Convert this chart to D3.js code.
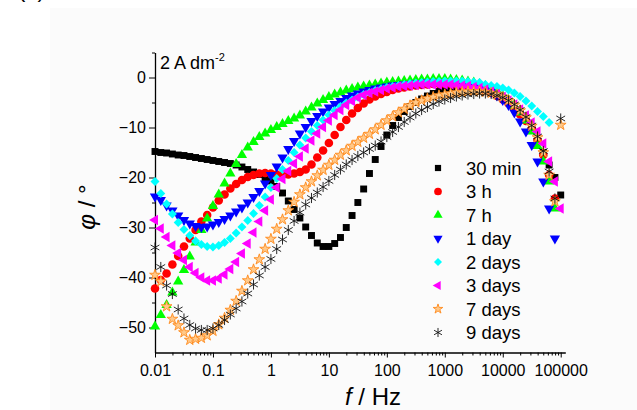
<!DOCTYPE html>
<html>
<head>
<meta charset="utf-8">
<script src="https://cdn.jsdelivr.net/npm/d3@7"></script>
<style>
  html, body { margin: 0; padding: 0; background: #ffffff; }
  svg { display: block; font-family: "Liberation Sans", Arial, sans-serif; }
</style>
</head>
<body>
<script>
// Bode phase plots of the coating after different immersion times

// measurement frequencies (Hz), 10 points per decade
const freq = [
  0.01, 0.01259, 0.01585, 0.01995, 0.02512, 0.03162, 0.03981, 0.05012, 0.0631, 0.07943,
  0.1, 0.1259, 0.1585, 0.1995, 0.2512, 0.3162, 0.3981, 0.5012, 0.631, 0.7943,
  1, 1.259, 1.585, 1.995, 2.512, 3.162, 3.981, 5.012, 6.31, 7.943,
  10, 12.59, 15.85, 19.95, 25.12, 31.62, 39.81, 50.12, 63.1, 79.43,
  100, 125.9, 158.5, 199.5, 251.2, 316.2, 398.1, 501.2, 631, 794.3,
  1000, 1259, 1585, 1995, 2512, 3162, 3981, 5012, 6310, 7943,
  10000, 12590, 15850, 19950, 25120, 31620, 39810, 50120, 63100, 79430,
  100000
];

// phase angle (degrees) for each immersion time
const phase30min = [
  -14.8, -15.0, -15.1, -15.3, -15.5, -15.6, -15.8, -16.0, -16.2, -16.4,
  -16.6, -16.8, -17.0, -17.2, -17.5, -17.9, -18.4, -18.9, -19.4, -20.0,
  -20.7, -21.8, -23.1, -24.7, -26.4, -28.1, -29.9, -31.6, -33.1, -33.8,
  -33.8, -33.2, -32.0, -30.0, -27.6, -25.0, -22.3, -19.2, -16.4, -13.8,
  -11.5, -9.6, -8.0, -6.8, -5.8, -5.0, -4.3, -3.7, -3.2, -2.8,
  -2.6, -2.4, -2.3, -2.2, -2.2, -2.2, -2.3, -2.5, -2.8, -3.3,
  -4.0, -4.8, -5.8, -7.0, -8.5, -10.3, -12.5, -15.0, -17.5, -20.0,
  -23.5
];
const phase3h = [
  -42.2, -40.5, -39.2, -37.4, -35.7, -33.8, -32.2, -30.5, -28.8, -27.5,
  -26.0, -24.6, -23.4, -22.2, -21.3, -20.5, -19.9, -19.5, -19.2, -19.1,
  -19.2, -19.4, -19.5, -19.4, -19.2, -18.9, -18.4, -17.4, -16.0, -14.6,
  -13.1, -11.5, -9.9, -8.5, -7.2, -6.1, -5.2, -4.4, -3.8, -3.3,
  -2.9, -2.5, -2.2, -2.0, -1.8, -1.6, -1.5, -1.4, -1.3, -1.3,
  -1.3, -1.3, -1.4, -1.5, -1.7, -1.9, -2.2, -2.6, -3.1, -3.7,
  -4.4, -5.2, -6.2, -7.4, -8.7, -10.2, -12.5, -15.5, -19.5, -24.2
];
const phase7h = [
  -49.8, -47.5, -45.5, -43.0, -40.8, -38.5, -35.8, -33.0, -30.5, -28.2,
  -25.7, -23.4, -21.2, -19.2, -17.3, -15.5, -14.0, -12.9, -11.9, -11.2,
  -10.5, -9.9, -9.3, -8.7, -8.2, -7.6, -6.8, -6.0, -5.2, -4.5,
  -3.9, -3.4, -3.0, -2.6, -2.3, -2.0, -1.8, -1.6, -1.4, -1.2,
  -1.0, -0.9, -0.8, -0.7, -0.6, -0.5, -0.4, -0.4, -0.3, -0.3,
  -0.3, -0.4, -0.5, -0.6, -0.8, -1.0, -1.3, -1.7, -2.2, -2.8,
  -3.6, -4.5, -5.6, -7.0, -8.6, -10.8, -13.7, -16.8, -20.8, -26.2
];
const phase1d = [
  -23.8, -24.5, -25.6, -26.6, -27.6, -28.5, -29.2, -29.7, -29.9, -29.8,
  -29.4, -28.9, -28.3, -27.6, -26.8, -26.0, -25.0, -23.9, -22.7, -21.2,
  -19.5, -17.8, -16.0, -14.3, -12.7, -11.2, -9.9, -8.7, -7.7, -6.8,
  -6.0, -5.3, -4.7, -4.1, -3.6, -3.2, -2.8, -2.5, -2.2, -2.0,
  -1.8, -1.6, -1.5, -1.4, -1.3, -1.2, -1.1, -1.0, -1.0, -1.0,
  -1.0, -1.1, -1.2, -1.3, -1.5, -1.7, -2.0, -2.4, -2.9, -3.6,
  -4.5, -5.5, -7.0, -8.8, -10.8, -13.5, -16.8, -20.8, -26.2, -32.2
];
const phase2d = [
  -20.8, -23.2, -25.3, -27.3, -29.0, -30.4, -31.6, -32.7, -33.4, -33.8,
  -33.9, -33.6, -33.0, -32.2, -31.1, -29.9, -28.6, -27.2, -25.6, -23.9,
  -22.0, -20.2, -18.4, -16.6, -15.0, -13.5, -12.1, -10.8, -9.6, -8.5,
  -7.5, -6.6, -5.8, -5.1, -4.5, -3.9, -3.4, -3.0, -2.6, -2.3,
  -2.0, -1.8, -1.6, -1.4, -1.2, -1.1, -1.0, -0.9, -0.8, -0.8,
  -0.7, -0.7, -0.7, -0.7, -0.8, -0.9, -1.0, -1.4, -1.6, -1.8,
  -2.1, -2.5, -3.1, -3.8, -4.7, -5.7, -6.8, -7.8, -9.0
];
const phase3d = [
  -28.5, -30.2, -31.9, -33.6, -35.1, -36.5, -37.9, -39.1, -40.0, -40.6,
  -40.6, -40.2, -39.4, -38.3, -36.9, -35.2, -33.2, -31.0, -28.8, -26.6,
  -24.4, -22.0, -20.3, -18.7, -17.2, -15.8, -14.2, -12.6, -11.2, -9.9,
  -8.6, -7.5, -6.5, -5.5, -4.7, -4.0, -3.5, -3.1, -2.8, -2.5,
  -2.2, -2.0, -1.8, -1.7, -1.6, -1.5, -1.4, -1.4, -1.4, -1.4,
  -1.4, -1.4, -1.5, -1.6, -1.7, -1.9, -2.1, -2.4, -2.8, -3.3,
  -3.9, -4.6, -5.4, -6.4, -7.6, -9.0, -10.8, -13.2, -16.8, -20.8,
  -26.2
];
const phase7d = [
  -39.5, -40.8, -45.8, -48.3, -49.6, -51.0, -52.5, -52.3, -52.1, -51.6,
  -50.7, -49.4, -48.1, -46.5, -44.7, -42.7, -40.6, -38.4, -36.4, -34.3,
  -32.3, -30.3, -28.4, -26.6, -24.9, -23.4, -22.0, -20.8, -19.6, -18.5,
  -17.5, -16.5, -15.5, -14.6, -13.7, -12.9, -12.1, -11.3, -10.4, -9.5,
  -8.6, -7.8, -7.0, -6.3, -5.6, -5.0, -4.6, -4.2, -3.9, -3.6,
  -3.4, -3.2, -3.0, -2.9, -2.8, -2.8, -2.8, -2.9, -3.1, -3.4,
  -3.9, -4.6, -5.5, -6.6, -8.0, -9.7, -12.0, -15.0, -19.5, -24.8,
  -9.5
];
const phase9d = [
  -34.0, -37.9, -41.6, -43.3, -46.4, -48.2, -49.5, -50.2, -50.5, -50.5,
  -50.2, -49.5, -48.5, -47.4, -46.2, -44.8, -43.2, -41.4, -39.6, -37.9,
  -36.3, -34.3, -32.4, -30.5, -28.7, -27.0, -25.4, -24.1, -23.0, -21.9,
  -20.7, -19.5, -18.4, -17.4, -16.5, -15.7, -15.0, -14.3, -13.6, -12.8,
  -11.9, -10.9, -9.9, -8.9, -8.0, -7.2, -6.5, -5.9, -5.3, -4.8,
  -4.4, -4.1, -3.8, -3.6, -3.4, -3.3, -3.2, -3.2, -3.3, -3.6,
  -4.0, -4.6, -5.4, -6.5, -7.9, -9.6, -11.8, -14.7, -18.8, -24.2,
  -8.2
];

const seriesNames = ["30 min", "3 h", "7 h", "1 day", "2 days", "3 days", "7 days", "9 days"];
const seriesPhases = [phase30min, phase3h, phase7h, phase1d, phase2d, phase3d, phase7d, phase9d];

// axis ticks
const xMajorTicks = [0.01, 0.1, 1, 10, 100, 1000, 10000, 100000];
const xTickLabels = ["0.01", "0.1", "1", "10", "100", "1000", "10000", "100000"];
const yMajorTicks = [0, -10, -20, -30, -40, -50];
const yMinorTicks = [5, -5, -15, -25, -35, -45];

// marker styles per series
const styles = [
  { type: d3.symbolSquare, size: 48, rot: 0, fill: "#000000", stroke: "none" },
  { type: d3.symbolCircle, size: 58, rot: 0, fill: "#ff0000", stroke: "none" },
  { type: d3.symbolTriangle, size: 46, rot: 0, fill: "#00ff00", stroke: "none" },
  { type: d3.symbolTriangle, size: 46, rot: 180, fill: "#0000ff", stroke: "none" },
  { type: d3.symbolSquare, size: 40, rot: 45, fill: "#00ffff", stroke: "none" },
  { type: d3.symbolTriangle, size: 46, rot: -90, fill: "#ff00ff", stroke: "none" },
  { type: d3.symbolStar, size: 36, rot: 0, fill: "#ffc98a", stroke: "#ff8a1c", sw: 0.9 },
  { type: d3.symbolAsterisk || d3.symbolCross, size: 72, rot: 0, fill: "none", stroke: "#111111", sw: 0.9 }
];

const W = 637, H = 410;
const svg = d3.select("body").append("svg").attr("width", W).attr("height", H);

// figure panel background
svg.append("rect").attr("x", 50).attr("y", 8).attr("width", W - 50).attr("height", H - 8)
  .attr("fill", "#fbfbfb");

// panel letter, mostly outside the top edge
svg.append("text").attr("x", 18).attr("y", -3).attr("font-size", 22).attr("fill", "#000")
  .text("(a)");

const x = d3.scaleLog().domain([0.01, 120000]).range([155, 565.3]);
const y = d3.scaleLinear().domain([-55, 5]).range([352.5, 52.5]);

// x axis: minor ticks then labelled majors
const xMinor = [];
xMajorTicks.slice(0, -1).forEach(d => { for (let k = 2; k <= 9; k++) xMinor.push(d * k); });

const gxMinor = svg.append("g").attr("transform", `translate(0,${y(-55)})`)
  .call(d3.axisBottom(x).tickValues(xMinor).tickSize(3).tickSizeOuter(0).tickFormat(""));
gxMinor.select(".domain").remove();

const gx = svg.append("g").attr("transform", `translate(0,${y(-55)})`)
  .call(d3.axisBottom(x).tickValues(xMajorTicks).tickSize(5).tickSizeOuter(0).tickPadding(7)
    .tickFormat((d, i) => xTickLabels[i]));
gx.selectAll("text").attr("font-size", 16).attr("fill", "#000").attr("font-family", null);

// y axis
const gyMinor = svg.append("g").attr("transform", `translate(${x(0.01)},0)`)
  .call(d3.axisLeft(y).tickValues(yMinorTicks).tickSize(3).tickSizeOuter(0).tickFormat(""));
gyMinor.select(".domain").remove();

const gy = svg.append("g").attr("transform", `translate(${x(0.01)},0)`)
  .call(d3.axisLeft(y).tickValues(yMajorTicks).tickSize(6).tickSizeOuter(0).tickPadding(3)
    .tickFormat(d => d < 0 ? "\u2212" + Math.abs(d) : String(d)));
gy.selectAll("text").attr("font-size", 16).attr("fill", "#000").attr("font-family", null);

svg.selectAll(".domain").attr("stroke", "#000").attr("stroke-width", 1.3);
svg.selectAll(".tick line").attr("stroke", "#000").attr("stroke-width", 1);

// data markers
const symbolPath = (st, scale) => d3.symbol().type(st.type).size(st.size * (scale || 1))();

seriesPhases.forEach((vals, s) => {
  const st = styles[s];
  const pts = vals.map((v, i) => ({ f: freq[i], p: v }));
  svg.append("g").selectAll("path").data(pts).join("path")
    .attr("d", symbolPath(st))
    .attr("transform", d => `translate(${x(d.f)},${y(d.p)}) rotate(${st.rot})`)
    .attr("fill", st.fill)
    .attr("stroke", st.stroke)
    .attr("stroke-width", st.sw || 0);
});

// current density note
const note = svg.append("text").attr("x", 160).attr("y", 69).attr("font-size", 18).attr("fill", "#000");
note.append("tspan").text("2 A dm");
note.append("tspan").attr("font-size", 11).attr("dy", -8).text("-2");

// legend
const legendRowY = d3.scaleLinear().domain([0, 7]).range([168, 332.5]);
const legend = svg.append("g");
seriesNames.forEach((name, s) => {
  const st = styles[s];
  const yy = legendRowY(s);
  legend.append("path")
    .attr("d", symbolPath(st, 0.8))
    .attr("transform", `translate(438,${yy}) rotate(${st.rot})`)
    .attr("fill", st.fill).attr("stroke", st.stroke).attr("stroke-width", st.sw || 0);
  legend.append("text").attr("x", 466).attr("y", yy + 6.8)
    .attr("font-size", 18.5).attr("fill", "#000").text(name);
});

// axis titles
const xt = svg.append("text").attr("x", 373).attr("y", 405).attr("text-anchor", "middle")
  .attr("font-size", 24).attr("fill", "#000");
xt.append("tspan").attr("font-style", "italic").text("f");
xt.append("tspan").text(" / Hz");

const yt = svg.append("text").attr("transform", "translate(95,207) rotate(-90)")
  .attr("text-anchor", "middle").attr("font-size", 24).attr("fill", "#000");
yt.append("tspan").attr("font-style", "italic").text("\u03c6");
yt.append("tspan").text(" / \u00b0");
</script>
</body>
</html>
